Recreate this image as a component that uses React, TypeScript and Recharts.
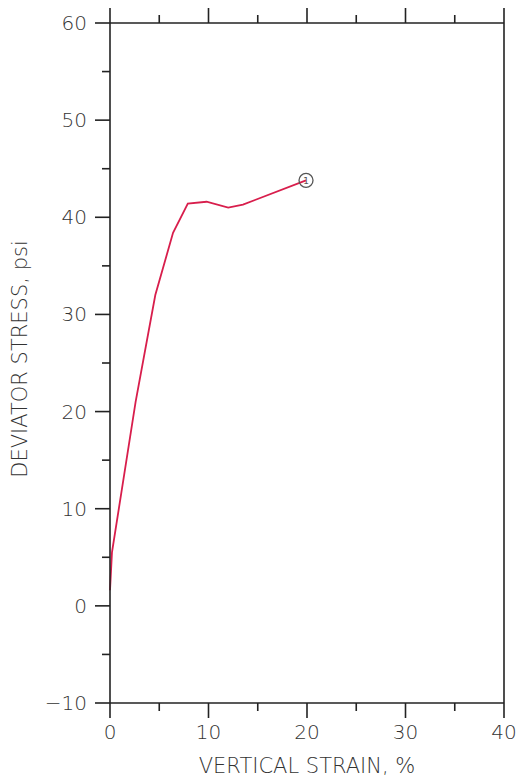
import React from "react";
import { LineChart, Line, XAxis, YAxis } from "recharts";

const strain = [0, 0.2, 2.6, 4.6, 6.4, 7.9, 9.8, 12.0, 13.5, 19.9];
const stress = [1.6, 5.5, 21.0, 32.0, 38.4, 41.4, 41.6, 41.0, 41.3, 43.8];
const xTicks = [0, 5, 10, 15, 20, 25, 30, 35, 40];
const yTicks = [-10, -5, 0, 5, 10, 15, 20, 25, 30, 35, 40, 45, 50, 55, 60];
const xTitle = "VERTICAL STRAIN, %";
const yTitle = "DEVIATOR STRESS, psi";
const curveLabel = "1";

const data = strain.map((s, i) => ({ strain: s, stress: stress[i] }));

const FONT = "'DejaVu Sans', sans-serif";
const FW = 200;
const AX = "#222";
const TXT = "#333";

const fmt = (v: number) => (v < 0 ? "\u2212" + Math.abs(v) : String(v));

const makeTick = (side: "bottom" | "top" | "left" | "right", showLabel: boolean) => (props: any) => {
  const { x, y, payload } = props;
  const v = payload.value as number;
  const major = v % 10 === 0;
  const len = major ? 15 : 8;
  let x2 = x, y2 = y;
  if (side === "bottom") y2 = y + len;
  if (side === "top") y2 = y - len;
  if (side === "left") x2 = x - len;
  if (side === "right") x2 = x + len;
  return (
    <g>
      <line x1={x} y1={y} x2={x2} y2={y2} stroke={AX} strokeWidth={1.6} />
      {showLabel && major && side === "bottom" && (
        <text x={x} y={y + 36} textAnchor="middle" fontFamily={FONT} fontWeight={FW} fontSize={20} fill={TXT}>
          {fmt(v)}
        </text>
      )}
      {showLabel && major && side === "left" && (
        <text x={x - 23} y={y + 7} textAnchor="end" fontFamily={FONT} fontWeight={FW} fontSize={20} fill={TXT}>
          {fmt(v)}
        </text>
      )}
    </g>
  );
};

const EndDot = (props: any) => {
  const { cx, cy, index } = props;
  if (index !== data.length - 1) return <g key={index} />;
  return (
    <g key={index}>
      <circle cx={cx} cy={cy} r={7} fill="none" stroke="#555" strokeWidth={1.3} />
      <text x={cx} y={cy + 3.5} textAnchor="middle" fontFamily={FONT} fontSize={9} fill="#555">
        {curveLabel}
      </text>
    </g>
  );
};

export default function App() {
  return (
    <div style={{ position: "absolute", left: 0, top: 0, background: "#fff" }}>
      <LineChart width={521} height={778} data={data} margin={{ top: 0, right: 0, bottom: 0, left: 0 }}>
        <XAxis
          xAxisId="b"
          dataKey="strain"
          type="number"
          domain={[0, 40]}
          ticks={xTicks}
          interval={0}
          orientation="bottom"
          height={75}
          axisLine={{ stroke: AX, strokeWidth: 1.6 }}
          tickLine={false}
          tickSize={0}
          tickMargin={0}
          tick={makeTick("bottom", true)}
          label={{
            content: (p: any) => {
              const vb = p.viewBox;
              return (
                <text x={vb.x + vb.width / 2} y={vb.y + 70} textAnchor="middle" fontFamily={FONT} fontWeight={FW} fontSize={21} fill={TXT}>
                  {xTitle}
                </text>
              );
            },
          }}
        />
        <XAxis
          xAxisId="t"
          dataKey="strain"
          type="number"
          domain={[0, 40]}
          ticks={xTicks}
          interval={0}
          orientation="top"
          height={23}
          axisLine={{ stroke: AX, strokeWidth: 1.6 }}
          tickLine={false}
          tickSize={0}
          tickMargin={0}
          tick={makeTick("top", false)}
        />
        <YAxis
          yAxisId="l"
          type="number"
          domain={[-10, 60]}
          ticks={yTicks}
          interval={0}
          orientation="left"
          width={110}
          axisLine={{ stroke: AX, strokeWidth: 1.6 }}
          tickLine={false}
          tickSize={0}
          tickMargin={0}
          tick={makeTick("left", true)}
          label={{
            content: (p: any) => {
              const vb = p.viewBox;
              const cy = vb.y + vb.height / 2 - 4;
              return (
                <text x={27} y={cy} transform={`rotate(-90, 27, ${cy})`} textAnchor="middle" fontFamily={FONT} fontWeight={FW} fontSize={21} fill={TXT}>
                  {yTitle}
                </text>
              );
            },
          }}
        />
        <YAxis
          yAxisId="r"
          type="number"
          domain={[-10, 60]}
          ticks={yTicks}
          interval={0}
          orientation="right"
          width={17}
          axisLine={{ stroke: AX, strokeWidth: 1.6 }}
          tickLine={false}
          tickSize={0}
          tickMargin={0}
          tick={makeTick("right", false)}
        />
        <Line
          xAxisId="b"
          yAxisId="l"
          dataKey="stress"
          type="linear"
          stroke="#d81e4c"
          strokeWidth={1.8}
          dot={EndDot}
          activeDot={false}
          isAnimationActive={false}
        />
      </LineChart>
    </div>
  );
}
